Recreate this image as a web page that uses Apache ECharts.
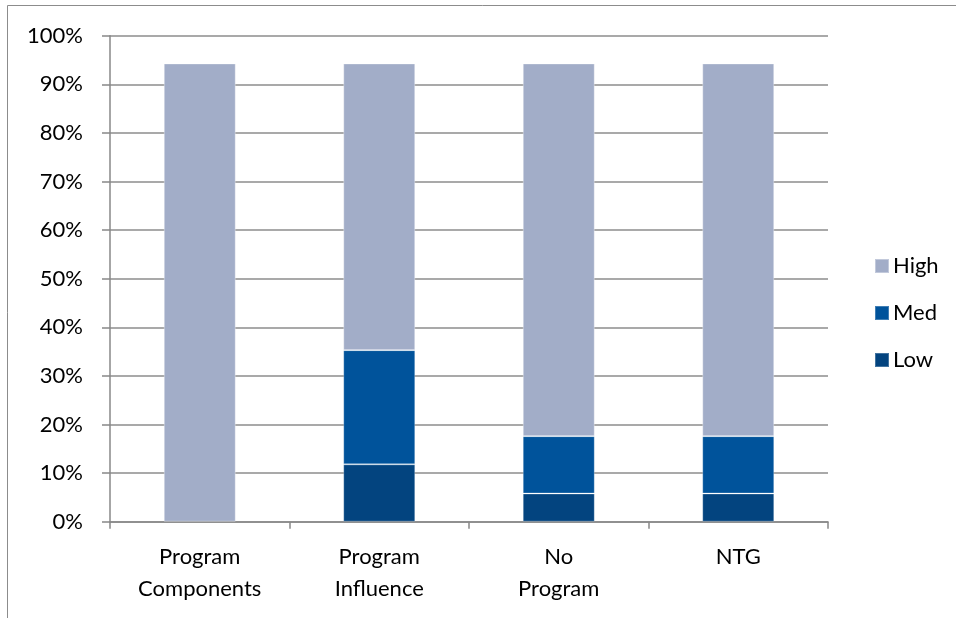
<!DOCTYPE html>
<html>
<head>
<meta charset="utf-8">
<script src="https://cdn.jsdelivr.net/npm/echarts@6/dist/echarts.min.js"></script>
<style>
html,body{margin:0;padding:0;background:#fff;}
#chart{width:956px;height:618px;}
</style>
</head>
<body>
<div id="chart"></div>
<script>
// categories and stacked percentages
var categories = ['Program\nComponents', 'Program\nInfluence', 'No\nProgram', 'NTG'];
var lowValues = [0, 11.8, 5.8, 5.8];
var medValues = [0, 23.5, 11.8, 11.8];
var highValues = [94.3, 59.0, 76.7, 76.7];

// empty segments are skipped so no border line is drawn at 0
function segs(arr) {
	return arr.map(function (v) { return v === 0 ? '-' : v; });
}

var myChart = echarts.init(document.getElementById('chart'));
var font = 'Lato, "Open Sans", sans-serif';

option = {
	animation: false,
	backgroundColor: '#fff',
	graphic: [{
		type: 'rect',
		shape: {x: 7.5, y: 5.5, width: 1000, height: 700},
		style: {fill: 'none', stroke: '#8c8c8c', lineWidth: 1}
	}],
	grid: {left: 110, right: 128, top: 35.7, bottom: 96.3},
	legend: {
		orient: 'vertical',
		left: 869,
		top: 250,
		itemWidth: 14,
		itemHeight: 14,
		itemGap: 25,
		icon: 'rect',
		data: ['High', 'Med', 'Low'],
		textStyle: {fontFamily: font, fontSize: 22, color: '#000', padding: [0, 0, 0, -1]}
	},
	xAxis: {
		type: 'category',
		data: categories,
		axisLine: {lineStyle: {color: '#888', width: 1.5}},
		axisTick: {show: true, length: 7, lineStyle: {color: '#888', width: 1.5}},
		axisLabel: {
			fontFamily: font, fontSize: 22, color: '#000',
			lineHeight: 32, margin: 19, interval: 0
		}
	},
	yAxis: {
		type: 'value',
		min: 0,
		max: 100,
		interval: 10,
		axisLine: {show: true, lineStyle: {color: '#888', width: 1.5}},
		axisTick: {show: true, length: 8, lineStyle: {color: '#888', width: 1.5}},
		splitLine: {show: true, lineStyle: {color: '#8c8c8c', width: 1.5}},
		axisLabel: {
			fontFamily: font, fontSize: 22, color: '#000', margin: 27,
			formatter: function (v) { return v + '%'; }
		}
	},
	series: [{
		name: 'Low',
		type: 'bar',
		stack: 'total',
		barWidth: 72,
		itemStyle: {color: '#03447f', borderColor: 'rgba(255,255,255,0.25)', borderWidth: 1},
		data: segs(lowValues)
	}, {
		name: 'Med',
		type: 'bar',
		stack: 'total',
		barWidth: 72,
		itemStyle: {color: '#00539b', borderColor: 'rgba(255,255,255,0.25)', borderWidth: 1},
		data: segs(medValues)
	}, {
		name: 'High',
		type: 'bar',
		stack: 'total',
		barWidth: 72,
		itemStyle: {color: '#a2adc8', borderColor: 'rgba(255,255,255,0.35)', borderWidth: 1},
		data: segs(highValues)
	}]
};
myChart.setOption(option);
</script>
</body>
</html>
